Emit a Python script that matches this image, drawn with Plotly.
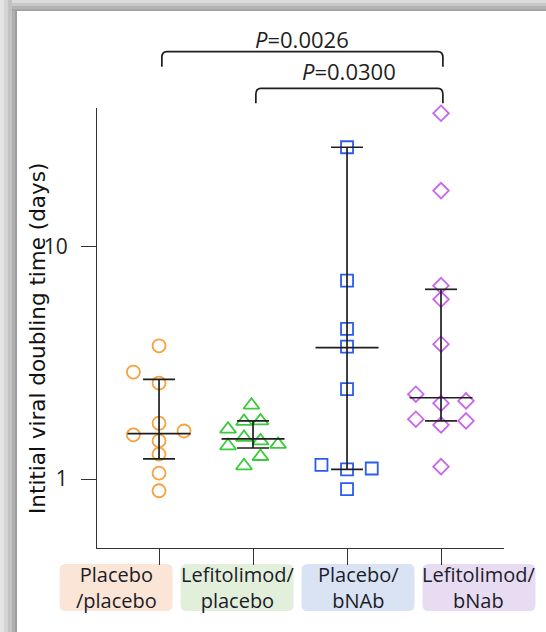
import plotly.graph_objects as go

# ---------------- data ----------------
categories = ["Placebo<br>/placebo", "Lefitolimod/<br>placebo", "Placebo/<br>bNAb", "Lefitolimod/<br>bNab"]

g1_values = [3.75, 2.89, 2.59, 1.74, 1.55, 1.61, 1.46, 1.28, 1.06, 0.89]
g2_values = [2.08, 1.77, 1.78, 1.64, 1.51, 1.46, 1.39, 1.41, 1.25, 1.14]
g3_values = [26.9, 7.16, 4.44, 3.72, 2.44, 1.15, 1.10, 1.11, 0.905]
g4_values = [37.7, 17.5, 6.81, 5.95, 3.81, 2.32, 2.17, 2.12, 1.81, 1.78, 1.71, 1.13]

medians = [1.57, 1.49, 3.68, 2.24]
q1_values = [1.22, 1.36, 1.10, 1.78]
q3_values = [2.69, 1.78, 26.9, 6.57]

p_labels = ["<i>P</i>=0.0026", "<i>P</i>=0.0300"]
p_pairs = [(0, 3), (1, 3)]

y_title = "Intitial viral doubling time (days)"
y_tick_vals = [1, 10]
y_tick_text = ["1", "10"]

# horizontal jitter offsets (category units), layout only
g1_off = [0, -0.273, 0, 0, -0.273, 0.266, 0, 0, 0, 0]
g2_off = [-0.017, -0.096, 0.079, -0.266, -0.096, 0.079, -0.266, 0.266, 0.079, -0.096]
g3_off = [0, 0, 0, 0, 0, -0.272, 0, 0.263, 0]
g4_off = [0, 0, 0, 0, 0, -0.268, 0.266, 0, -0.268, 0.266, 0, 0]

# ---------------- styles ----------------
colors = ["#f7a23e", "#3acb3a", "#2b5cf0", "#c966ec"]
symbols = ["circle-open", "triangle-up-open", "square-open", "diamond-open"]
sizes = [13, 14, 12, 12]
box_colors = ["#fbe5d6", "#e2efda", "#dae3f3", "#e8dcf2"]
ink = "#1e1e1e"

W, H = 546, 632
ML, MR, MT, MB = 97, 42, 108, 84
XR = [-0.66, 3.67]
YR = [-0.2974, 1.599]
PW = W - ML - MR
PH = H - MT - MB

def px2paper_x(px):
    return (px - ML) / PW

def px2paper_y(py):
    return (H - MB - py) / PH

def data2paper_x(x):
    return (x - XR[0]) / (XR[1] - XR[0])

fig = go.Figure()

groups = [(g1_values, g1_off), (g2_values, g2_off), (g3_values, g3_off), (g4_values, g4_off)]
for i, (vals, offs) in enumerate(groups):
    fig.add_trace(go.Scatter(
        x=[i + o for o in offs], y=vals, mode="markers",
        marker=dict(symbol=symbols[i], size=sizes[i], color=colors[i],
                    line=dict(width=1.8, color=colors[i])),
        cliponaxis=False, showlegend=False, hoverinfo="y"))

# median and interquartile range
MED_HALF = 0.335
Q_HALF = 0.17
for i in range(4):
    xs = [i - MED_HALF, i + MED_HALF, None,
          i - Q_HALF, i + Q_HALF, None,
          i - Q_HALF, i + Q_HALF, None,
          i, i]
    ys = [medians[i], medians[i], None,
          q1_values[i], q1_values[i], None,
          q3_values[i], q3_values[i], None,
          q1_values[i], q3_values[i]]
    fig.add_trace(go.Scatter(x=xs, y=ys, mode="lines",
                             line=dict(color=ink, width=1.7),
                             showlegend=False, hoverinfo="skip", cliponaxis=False))

shapes = []
annotations = []

# significance brackets
bracket_tops = [px2paper_y(51.7), px2paper_y(88.3)]
leg_len = 15 / PH
rx = 5 / (PW / (XR[1] - XR[0]))
ry = 6 / PH
label_y = [px2paper_y(39), px2paper_y(71)]
for k, (a, b) in enumerate(p_pairs):
    x0 = a + 0.03
    x1 = b + 0.02
    yt = bracket_tops[k]
    yb = yt - leg_len
    path = (f"M {x0},{yb} L {x0},{yt - ry} Q {x0},{yt} {x0 + rx},{yt} "
            f"L {x1 - rx},{yt} Q {x1},{yt} {x1},{yt - ry} L {x1},{yb}")
    shapes.append(dict(type="path", xref="x", yref="paper", path=path,
                       line=dict(color=ink, width=1.7)))
    annotations.append(dict(x=(x0 + x1) / 2, y=label_y[k], xref="x", yref="paper",
                            text=p_labels[k], showarrow=False, xanchor="center", yanchor="middle",
                            font=dict(size=22, color=ink, family="Open Sans")))

# category label boxes
BOX_START = -0.457
BOX_STEP = 1.287
BOX_W = 1.202
box_top = px2paper_y(564)
box_bot = px2paper_y(611)
brx = 6 / PW
bry = 6 / PH
for i, lab in enumerate(categories):
    c = BOX_START + i * BOX_STEP
    x0 = data2paper_x(c - BOX_W / 2)
    x1 = data2paper_x(c + BOX_W / 2)
    path = (f"M {x0 + brx},{box_top} L {x1 - brx},{box_top} Q {x1},{box_top} {x1},{box_top - bry} "
            f"L {x1},{box_bot + bry} Q {x1},{box_bot} {x1 - brx},{box_bot} "
            f"L {x0 + brx},{box_bot} Q {x0},{box_bot} {x0},{box_bot + bry} "
            f"L {x0},{box_top - bry} Q {x0},{box_top} {x0 + brx},{box_top} Z")
    shapes.append(dict(type="path", xref="paper", yref="paper", path=path,
                       fillcolor=box_colors[i], line=dict(width=0), layer="below"))
    annotations.append(dict(x=data2paper_x(c), y=(box_top + box_bot) / 2, xref="paper", yref="paper",
                            text=lab, showarrow=False, xanchor="center", yanchor="middle",
                            font=dict(size=20, color="#1c1c2a", family="Open Sans")))

# y-axis title as rotated annotation
annotations.append(dict(x=px2paper_x(37), y=px2paper_y(339), xref="paper", yref="paper",
                        text=y_title, textangle=-90, showarrow=False,
                        xanchor="center", yanchor="middle",
                        font=dict(size=21.5, color="#111", family="DejaVu Sans")))

# page shadow on left and top edges
left_strips = [(0, 4, "#e4e4e4"), (4, 8, "#d4d4d4"), (8, 12, "#c2c2c2"), (12, 15, "#afafaf"), (15, 17, "#9e9e9e")]
for a, b, col in left_strips:
    shapes.append(dict(type="rect", xref="paper", yref="paper",
                       x0=px2paper_x(a), x1=px2paper_x(b), y0=px2paper_y(H), y1=px2paper_y(0),
                       fillcolor=col, line=dict(width=0), layer="above"))
top_strips = [(0, 3, "#dcdcdc"), (3, 6, "#c8c8c8"), (6, 9, "#b4b4b4"), (9, 11, "#a4a4a4")]
for a, b, col in top_strips:
    shapes.append(dict(type="rect", xref="paper", yref="paper",
                       x0=px2paper_x(12), x1=px2paper_x(W), y0=px2paper_y(b), y1=px2paper_y(a),
                       fillcolor=col, line=dict(width=0), layer="above"))

fig.update_layout(
    width=W, height=H,
    margin=dict(l=ML, r=MR, t=MT, b=MB, autoexpand=False),
    paper_bgcolor="white", plot_bgcolor="white",
    font=dict(family="Open Sans", color=ink),
    showlegend=False,
    shapes=shapes, annotations=annotations,
    xaxis=dict(range=XR, tickvals=[0, 1, 2, 3], ticktext=["", "", "", ""],
               ticks="outside", ticklen=16, tickwidth=1.3, tickcolor="#333",
               showline=True, linecolor="#333", linewidth=1.3,
               showgrid=False, zeroline=False, fixedrange=True),
    yaxis=dict(type="log", range=YR, tickvals=y_tick_vals, ticktext=y_tick_text,
               ticks="outside", ticklen=15, tickwidth=1.3, tickcolor="#333",
               ticklabelstandoff=9,
               tickfont=dict(size=21, color="#222"),
               showline=True, linecolor="#333", linewidth=1.3,
               showgrid=False, zeroline=False, fixedrange=True),
)

fig.write_html("out.html", config={"displayModeBar": False},
               post_script="document.body.style.margin='0';document.body.style.overflow='hidden';")
